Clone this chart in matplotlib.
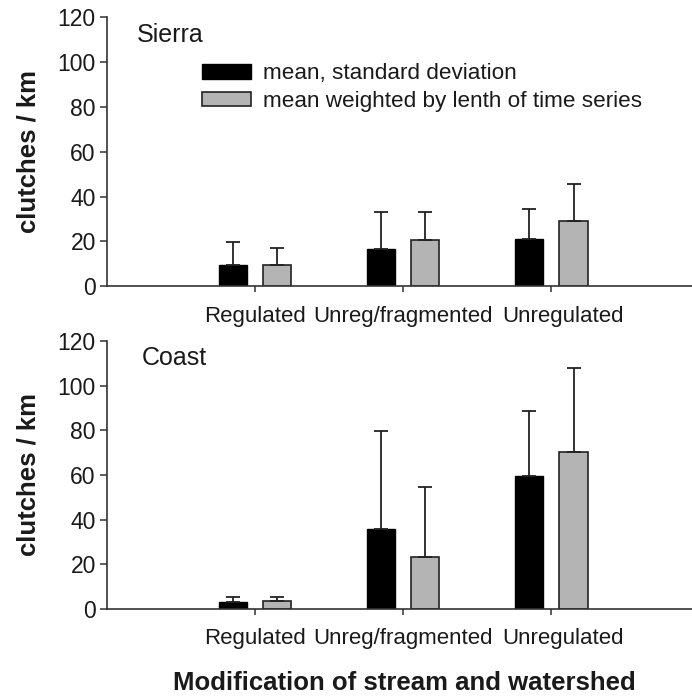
import matplotlib.pyplot as plt
import matplotlib.transforms as mtransforms
import numpy as np

plt.rcParams["font.family"] = ["Liberation Sans", "DejaVu Sans"]

categories = ["Regulated", "Unreg/fragmented", "Unregulated"]

sierra_mean = [9.4, 16.5, 21.0]
sierra_sd = [10.2, 16.5, 13.4]
sierra_weighted = [9.4, 20.5, 29.0]
sierra_weighted_sd = [7.6, 12.5, 16.6]

coast_mean = [3.0, 35.8, 59.6]
coast_sd = [2.4, 43.9, 29.1]
coast_weighted = [3.5, 23.3, 70.3]
coast_weighted_sd = [1.9, 31.3, 37.6]

legend_labels = ["mean, standard deviation", "mean weighted by lenth of time series"]

text_color = "#1a1a1a"
spine_color = "#333333"
gray_fill = "#b4b4b4"


def draw_panel(fig, ax, mean, sd, weighted, weighted_sd, title, title_x):
    x = np.arange(len(categories))
    width = 0.19
    off = 0.15
    err_kw = {"elinewidth": 1.3, "capthick": 1.3, "ecolor": "#222222"}
    ax.bar(x - off, mean, width, color="black", edgecolor="black", linewidth=1.0,
           yerr=[np.zeros(len(sd)), sd], capsize=5, error_kw=err_kw,
           label=legend_labels[0], zorder=2)
    ax.bar(x + off, weighted, width, color=gray_fill, edgecolor="#222222", linewidth=1.2,
           yerr=[np.zeros(len(weighted_sd)), weighted_sd], capsize=5, error_kw=err_kw,
           label=legend_labels[1], zorder=2)
    ax.set_xlim(-1, 2.95)
    ax.set_ylim(0, 120)
    ax.set_yticks(range(0, 121, 20))
    ax.set_xticks(x)
    ax.set_xticklabels(categories)
    ax.spines["top"].set_visible(False)
    ax.spines["right"].set_visible(False)
    for s in ("left", "bottom"):
        ax.spines[s].set_color(spine_color)
        ax.spines[s].set_linewidth(1.2)
    ax.tick_params(axis="y", direction="out", length=5, width=1.1, color=spine_color,
                   labelsize=16.5, labelcolor=text_color, pad=3)
    ax.tick_params(axis="x", direction="out", length=4, width=1.1, color=spine_color,
                   labelsize=16, labelcolor=text_color, pad=10)
    # last category label sits a little right of its tick in the original
    shift = mtransforms.ScaledTranslation(12 / 100, 0, fig.dpi_scale_trans)
    lab = ax.get_xticklabels()[-1]
    lab.set_transform(lab.get_transform() + shift)
    ax.set_ylabel("clutches / km", fontsize=18.5, fontweight="bold", color=text_color,
                  labelpad=12)
    ax.text(title_x, 0.935, title, transform=ax.transAxes, fontsize=18,
            color=text_color, va="center", ha="left")


fig = plt.figure(figsize=(6.92, 6.98), dpi=100)
ax1 = fig.add_axes([0.1546, 0.590, 0.8454, 0.3854])
ax2 = fig.add_axes([0.1546, 0.1275, 0.8454, 0.384])

draw_panel(fig, ax1, sierra_mean, sierra_sd, sierra_weighted, sierra_weighted_sd, "Sierra", 0.051)
draw_panel(fig, ax2, coast_mean, coast_sd, coast_weighted, coast_weighted_sd, "Coast", 0.06)

ax1.legend(loc="upper left", bbox_to_anchor=(0.147, 0.862), frameon=False,
           fontsize=16.2, handlelength=2.2, handleheight=0.62, handletextpad=0.5,
           labelspacing=0.3, borderaxespad=0, labelcolor=text_color)

fig.text(0.585, 0.021, "Modification of stream and watershed", ha="center",
         va="center", fontsize=18.5, fontweight="bold", color=text_color)

fig.savefig("out.png", dpi=100)
